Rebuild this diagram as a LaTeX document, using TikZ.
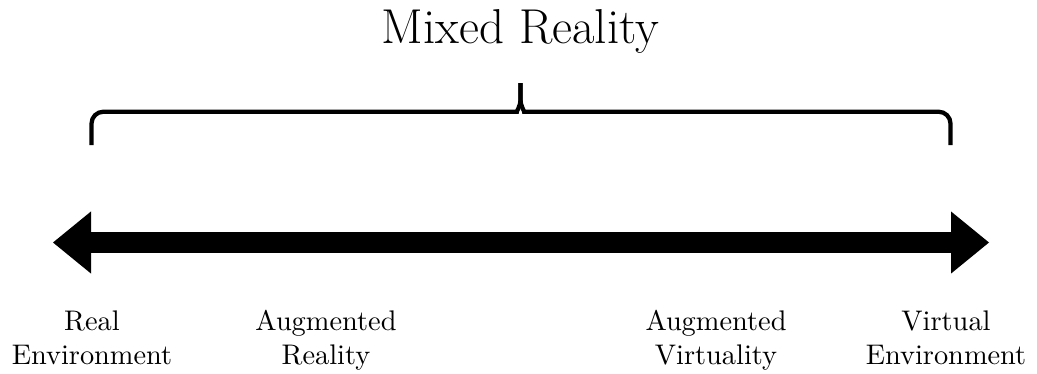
\documentclass[tikz,border=0pt]{standalone}
\usetikzlibrary{arrows.meta}
\begin{document}
\begin{tikzpicture}[x=0.3526pt,y=-0.3526pt,>={Triangle[length=13.4pt,width=21.9pt,line width=0pt]},
lbl/.style={align=center,anchor=north,inner sep=0pt},
axis/.style={<->,line width=7.4pt},
brc/.style={line width=1.5pt}]
\useasboundingbox (0,0) rectangle (1037,373);
\node[font=\LARGE,anchor=base,inner sep=0pt] (title) at (520.5,43.3) {Mixed Reality};
% brace under the title
\coordinate (tip) at (520.5,83);
\draw[brc] (91.5,145) [rounded corners=4.2pt] |- (505,111.7) [sharp corners] .. controls (516,111.7) and (520.5,107) .. (520.5,99) -- (tip);
\draw[brc] (950.5,145) [rounded corners=4.2pt] |- (536,111.7) [sharp corners] .. controls (525,111.7) and (520.5,107) .. (520.5,99) -- (tip);
% the continuum
\coordinate (west) at (53,242.5);
\coordinate (east) at (989,242.5);
\draw[axis] (west)--(east);
\node[lbl] (real) at (92,310) {Real\\Environment};
\node[lbl] (ar) at (326,310) {Augmented\\Reality};
\node[lbl] (av) at (716,310) {Augmented\\Virtuality};
\node[lbl] (virt) at (946,310) {Virtual\\Environment};
\end{tikzpicture}
\end{document}
